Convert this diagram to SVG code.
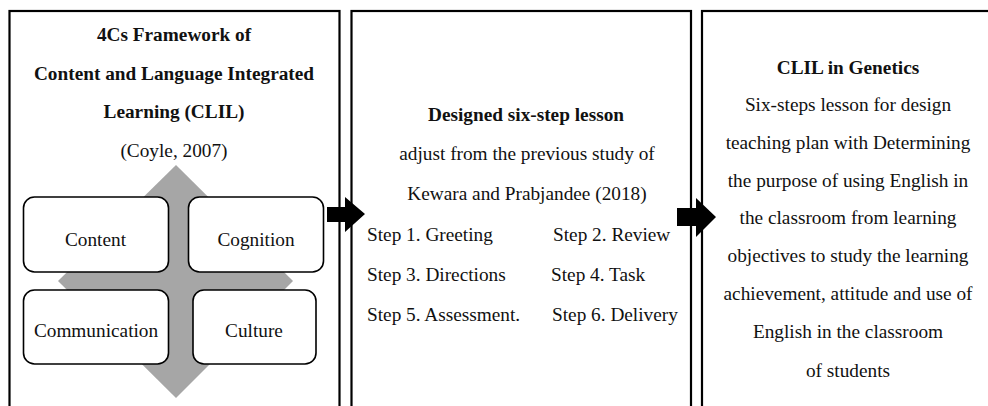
<svg xmlns="http://www.w3.org/2000/svg" width="988" height="406" viewBox="0 0 988 406">
<style>
  .frame { fill: #ffffff; stroke: #000000; stroke-width: 2.2; }
  .cbox { fill: #ffffff; stroke: #000000; stroke-width: 1.6; }
  text { font-family: "Liberation Serif", "Times New Roman", serif; font-size: 19.3px; fill: #111111; }
  .b { font-weight: bold; }
  .c { text-anchor: middle; }
  .arrow { fill: #000000; }
</style>
<rect width="988" height="406" fill="#ffffff"/>

<g id="framework">
  <rect class="frame" x="9.5" y="11" width="330" height="410"/>
  <text class="b c" x="174" y="41">4Cs Framework of</text>
  <text class="b c" x="174" y="80">Content and Language Integrated</text>
  <text class="b c" x="174" y="118">Learning (CLIL)</text>
  <text class="c" x="174" y="157">(Coyle, 2007)</text>
  <polygon points="176,165 293,281 176,398 58,281" fill="#a6a6a6"/>
  <g id="content">
    <rect class="cbox" x="23.5" y="197" width="145" height="75" rx="11"/>
    <text class="c" x="95.5" y="246">Content</text>
  </g>
  <g id="cognition">
    <rect class="cbox" x="188.5" y="197" width="135" height="75" rx="11"/>
    <text class="c" x="256" y="246">Cognition</text>
  </g>
  <g id="communication">
    <rect class="cbox" x="23.5" y="290" width="145" height="74" rx="11"/>
    <text class="c" x="96" y="337">Communication</text>
  </g>
  <g id="culture">
    <rect class="cbox" x="193" y="290" width="123" height="74" rx="11"/>
    <text class="c" x="254" y="337">Culture</text>
  </g>
</g>

<g id="lesson">
  <rect class="frame" x="351.5" y="11" width="339.5" height="410"/>
  <text class="b c" x="526" y="121">Designed six-step lesson</text>
  <text class="c" x="527" y="160">adjust from the previous study of</text>
  <text class="c" x="527" y="200">Kewara and Prabjandee (2018)</text>
  <text x="367" y="241">Step 1. Greeting</text>
  <text x="553" y="241">Step 2. Review</text>
  <text x="367" y="281">Step 3. Directions</text>
  <text x="551" y="281">Step 4. Task</text>
  <text x="367" y="321">Step 5. Assessment.</text>
  <text x="552" y="321">Step 6. Delivery</text>
</g>

<g id="genetics">
  <rect class="frame" x="702" y="11" width="300" height="410"/>
  <text class="b c" x="848" y="74">CLIL in Genetics</text>
  <text class="c" x="848" y="111">Six-steps lesson for design</text>
  <text class="c" x="848" y="149">teaching plan with Determining</text>
  <text class="c" x="848" y="187">the purpose of using English in</text>
  <text class="c" x="848" y="224">the classroom from learning</text>
  <text class="c" x="848" y="262">objectives to study the learning</text>
  <text class="c" x="848" y="300">achievement, attitude and use of</text>
  <text class="c" x="848" y="338">English in the classroom</text>
  <text class="c" x="848" y="377">of students</text>
</g>

<g id="connectors">
  <polygon class="arrow" points="327,207 345,207 345,197 365,214 345,232 345,222 327,222"/>
  <polygon class="arrow" points="677,208 696,208 696,198 716,217 696,237 696,226 677,226"/>
</g>
</svg>
